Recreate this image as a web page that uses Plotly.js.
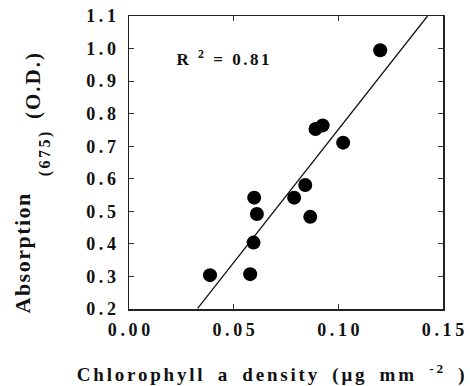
<!DOCTYPE html>
<html>
<head>
<meta charset="utf-8">
<script src="https://cdn.plot.ly/plotly-3.0.1.min.js"></script>
<style>
html,body{margin:0;padding:0;background:#fff;}
#chart{width:470px;height:386px;}
.annotation[data-index="0"] .annotation-text{letter-spacing:2.5px;}
.annotation[data-index="1"] .annotation-text{letter-spacing:2.8px;}
.annotation[data-index="2"] .annotation-text{letter-spacing:1.5px;}
.annotation[data-index="3"] .annotation-text{letter-spacing:2.5px;}
.annotation[data-index="4"] .annotation-text{letter-spacing:2px;}
</style>
</head>
<body>
<div id="chart"></div>
<script>
// Data
const chlA = [0.0387, 0.0579, 0.0595, 0.0598, 0.0611, 0.0789, 0.0842, 0.0866, 0.0891, 0.0925, 0.1023, 0.1200];
const absorption = [0.304, 0.307, 0.404, 0.542, 0.492, 0.542, 0.581, 0.483, 0.753, 0.764, 0.711, 0.995];
const fitX = [0.0328, 0.1426];
const fitY = [0.202, 1.100];
const xTickVals = [0.00, 0.05, 0.10, 0.15];
const xTickText = ["0.00", "0.05", "0.10", "0.15"];
const yTickVals = [0.2, 0.3, 0.4, 0.5, 0.6, 0.7, 0.8, 0.9, 1.0, 1.1];
const yTickText = ["0.2", "0.3", "0.4", "0.5", "0.6", "0.7", "0.8", "0.9", "1.0", "1.1"];

const sp = s => "<b>" + s.split("").join("\u2009") + "</b>";
const F = "Liberation Serif, Times New Roman, serif";

const traces = [
  {x: fitX, y: fitY, mode: "lines", line: {color: "#111", width: 1.3}, hoverinfo: "skip", showlegend: false},
  {x: chlA, y: absorption, mode: "markers", marker: {color: "#000", size: 14, line: {width: 0}}, showlegend: false}
];

const axisCommon = {
  showgrid: false, zeroline: false, showline: true, linecolor: "#222", linewidth: 1.5,
  mirror: "ticks", ticks: "inside", ticklen: 5, tickwidth: 1, tickcolor: "#333",
  tickfont: {family: F, size: 18, color: "#111"}
};

const layout = {
  width: 470, height: 386,
  margin: {l: 129, r: 27, t: 16, b: 77},
  paper_bgcolor: "#fff", plot_bgcolor: "#fff",
  font: {family: F},
  xaxis: Object.assign({}, axisCommon, {
    range: [0, 0.15], tickmode: "array", tickvals: xTickVals, ticktext: xTickText.map(sp),
    ticklabelstandoff: 4
  }),
  yaxis: Object.assign({}, axisCommon, {
    range: [0.2, 1.1], tickmode: "array", tickvals: yTickVals, ticktext: yTickText.map(sp),
    ticklabelstandoff: 8
  }),
  annotations: [
    {xref: "paper", yref: "paper", x: 0, y: 1, xanchor: "center", yanchor: "middle", showarrow: false,
     xshift: 95, yshift: -42,
     text: "<b>R <sup>2</sup> = 0.81</b>", font: {family: F, size: 17, color: "#111"}},
    {xref: "paper", yref: "paper", x: 0, y: 0, xanchor: "center", yanchor: "middle", showarrow: false,
     xshift: 143, yshift: -64,
     text: "<b>Chlorophyll\u2002a\u2002density\u2002(\u03bcg\u2002mm\u2002<sup>-2</sup>\u2002)</b>",
     font: {family: F, size: 19, color: "#111"}},
    {xref: "paper", yref: "paper", x: 0, y: 0, xanchor: "center", yanchor: "middle", showarrow: false, textangle: -90,
     xshift: -107, yshift: 309 - 253,
     text: "<b>Absorption</b>", font: {family: F, size: 22, color: "#111"}},
    {xref: "paper", yref: "paper", x: 0, y: 0, xanchor: "center", yanchor: "middle", showarrow: false, textangle: -90,
     xshift: -84, yshift: 309 - 153,
     text: "<b>(675)</b>", font: {family: F, size: 16, color: "#111"}},
    {xref: "paper", yref: "paper", x: 0, y: 0, xanchor: "center", yanchor: "middle", showarrow: false, textangle: -90,
     xshift: -96, yshift: 309 - 85,
     text: "<b>(O.D.)</b>", font: {family: F, size: 21, color: "#111"}}
  ]
};

Plotly.newPlot("chart", traces, layout, {displayModeBar: false, staticPlot: true});
</script>
</body>
</html>
